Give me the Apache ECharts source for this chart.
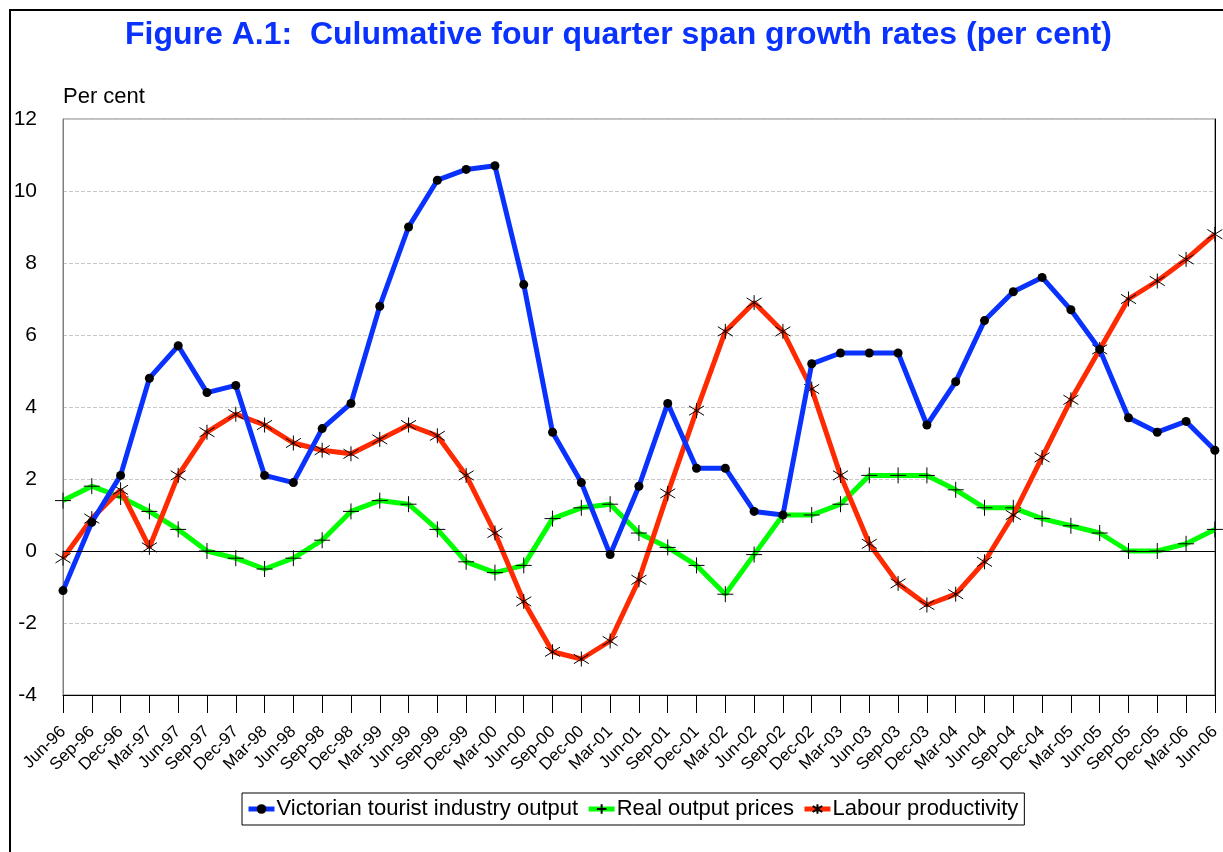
<!DOCTYPE html>
<html>
<head>
<meta charset="utf-8">
<script src="https://cdn.jsdelivr.net/npm/echarts@6/dist/echarts.min.js"></script>
<style>
  html, body { margin: 0; padding: 0; background: #fff; }
  #container1 { width: 1223px; height: 852px; }
</style>
</head>
<body>
<div id="container1"></div>
<script>
// quarters
var quarters = ['Jun-96','Sep-96','Dec-96','Mar-97','Jun-97','Sep-97','Dec-97','Mar-98','Jun-98','Sep-98',
    'Dec-98','Mar-99','Jun-99','Sep-99','Dec-99','Mar-00','Jun-00','Sep-00','Dec-00','Mar-01',
    'Jun-01','Sep-01','Dec-01','Mar-02','Jun-02','Sep-02','Dec-02','Mar-03','Jun-03','Sep-03',
    'Dec-03','Mar-04','Jun-04','Sep-04','Dec-04','Mar-05','Jun-05','Sep-05','Dec-05','Mar-06','Jun-06'];

// Victorian tourist industry output
var output = [-1.1, 0.8, 2.1, 4.8, 5.7, 4.4, 4.6, 2.1, 1.9, 3.4,
    4.1, 6.8, 9.0, 10.3, 10.6, 10.7, 7.4, 3.3, 1.9, -0.1,
    1.8, 4.1, 2.3, 2.3, 1.1, 1.0, 5.2, 5.5, 5.5, 5.5,
    3.5, 4.7, 6.4, 7.2, 7.6, 6.7, 5.6, 3.7, 3.3, 3.6, 2.8];

// Real output prices
var prices = [1.4, 1.8, 1.5, 1.1, 0.6, 0.0, -0.2, -0.5, -0.2, 0.3,
    1.1, 1.4, 1.3, 0.6, -0.3, -0.6, -0.4, 0.9, 1.2, 1.3,
    0.5, 0.1, -0.4, -1.2, -0.1, 1.0, 1.0, 1.3, 2.1, 2.1,
    2.1, 1.7, 1.2, 1.2, 0.9, 0.7, 0.5, 0.0, 0.0, 0.2, 0.6];

// Labour productivity
var productivity = [-0.2, 0.9, 1.7, 0.1, 2.1, 3.3, 3.8, 3.5, 3.0, 2.8,
    2.7, 3.1, 3.5, 3.2, 2.1, 0.5, -1.4, -2.8, -3.0, -2.5,
    -0.8, 1.6, 3.9, 6.1, 6.9, 6.1, 4.5, 2.1, 0.2, -0.9,
    -1.5, -1.2, -0.3, 1.0, 2.6, 4.2, 5.6, 7.0, 7.5, 8.1, 8.8];

var yTicks = { min: -4, max: 12, interval: 2 };

var dom    = document.getElementById("container1");
var chart1 = echarts.init(dom);

var font = 'Liberation Sans, Arial, sans-serif';

option = {
    animation: false,
    backgroundColor: '#fff',
    textStyle: { fontFamily: font, color: '#000' },
    title: {
        text: 'Figure A.1:  Culumative four quarter span growth rates (per cent)',
        left: 120,
        top: 14,
        textStyle: {
            fontFamily: font,
            fontSize: 32,
            fontWeight: 'bold',
            color: '#0a32ff'
        }
    },
    graphic: [{
        type: 'rect',
        shape: { x: 10, y: 10, width: 1400, height: 1000 },
        style: { fill: 'none', stroke: '#000', lineWidth: 2 },
        silent: true
    }],
    legend: {
        left: 242,
        top: 793,
        padding: [5, 6, 5, 4],
        borderColor: '#000',
        borderWidth: 1,
        itemWidth: 26,
        itemHeight: 12,
        itemGap: 8,
        lineStyle: { width: 5 },
        textStyle: { fontFamily: font, fontSize: 22, color: '#000', padding: [0, 0, 0, -3] },
        data: ['Victorian tourist industry output', 'Real output prices', 'Labour productivity']
    },
    grid: {
        left: 63,
        right: 7,
        top: 119,
        bottom: 157,
        show: true,
        borderColor: '#808080',
        borderWidth: 1
    },
    xAxis: {
        type: 'category',
        data: quarters,
        boundaryGap: false,
        axisLine: { onZero: false, lineStyle: { color: '#000', width: 1 } },
        axisTick: { show: true, inside: false, length: 18, alignWithLabel: true, lineStyle: { color: '#000' } },
        axisLabel: {
            interval: 0,
            rotate: 45,
            margin: 34,
            fontSize: 17,
            color: '#000',
            fontFamily: font
        },
        splitLine: { show: false }
    },
    yAxis: [{
        type: 'value',
        min: yTicks.min,
        max: yTicks.max,
        interval: yTicks.interval,
        name: 'Per cent',
        nameLocation: 'end',
        nameGap: 11,
        nameTextStyle: { fontSize: 22, color: '#000', align: 'left', fontFamily: font },
        axisLine: { show: true, lineStyle: { color: '#808080', width: 1 } },
        axisTick: { show: false },
        axisLabel: { fontSize: 21, color: '#000', margin: 26, fontFamily: font },
        splitLine: { show: true, lineStyle: { color: '#c8c8c8', type: 'dashed', width: 1 } }
    }, {
        type: 'value',
        position: 'right',
        min: yTicks.min,
        max: yTicks.max,
        interval: yTicks.interval,
        axisLine: { show: true, lineStyle: { color: '#000', width: 1 } },
        axisTick: { show: false },
        axisLabel: { show: false },
        splitLine: { show: false }
    }],
    series: [
        {
            name: 'Victorian tourist industry output',
            type: 'line',
            data: output,
            symbol: 'circle',
            symbolSize: 9,
            lineStyle: { color: '#0a32ff', width: 5 },
            itemStyle: { color: '#000' },
            markLine: {
                silent: true,
                symbol: 'none',
                label: { show: false },
                lineStyle: { color: '#000', width: 1, type: 'solid' },
                data: [{ yAxis: 0 }]
            },
            z: 4
        },
        {
            name: 'Real output prices',
            type: 'line',
            data: prices,
            symbol: 'path://M0,-8L0,8M-8,0L8,0',
            symbolSize: 16,
            lineStyle: { color: '#00ff00', width: 5 },
            itemStyle: { color: '#000', borderColor: '#000', borderWidth: 1 },
            z: 2
        },
        {
            name: 'Labour productivity',
            type: 'line',
            data: productivity,
            symbol: 'path://M0,-8L0,8M-7,-5L7,5M-7,5L7,-5',
            symbolSize: 15,
            lineStyle: { color: '#ff2a00', width: 5 },
            itemStyle: { color: '#000', borderColor: '#000', borderWidth: 1 },
            z: 3
        }
    ]
};

chart1.setOption(option, true);
</script>
</body>
</html>
